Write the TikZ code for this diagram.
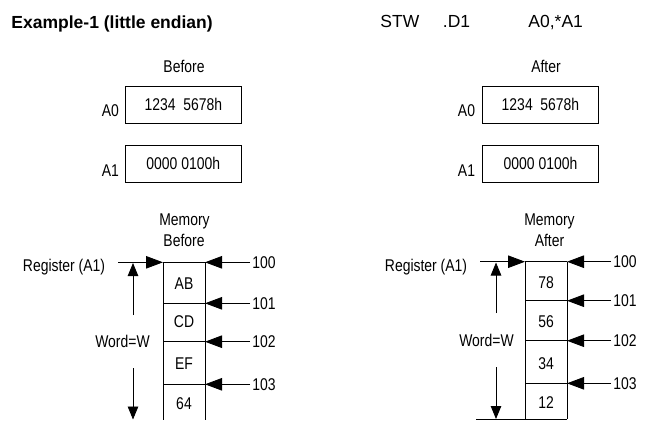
\documentclass[tikz,border=0pt]{standalone}
\usepackage{fontspec}
\setmainfont{Liberation Sans}
\newfontfamily\bodyfont[FakeStretch=0.82]{Liberation Sans}
\usetikzlibrary{arrows.meta}
\begin{document}
\begin{tikzpicture}[x=1bp,y=-1bp,line width=0.9bp,
  txt/.style={inner sep=0pt,font=\bodyfont\fontsize{17bp}{20bp}\selectfont},
  head/.style={inner sep=0pt,font=\fontsize{17.5bp}{20bp}\selectfont},
  reg/.style={draw,inner sep=0pt,minimum width=116.7bp,minimum height=37.5bp,font=\bodyfont\fontsize{17bp}{20bp}\selectfont},
  harr/.style={-{Triangle[length=17bp,width=12.5bp]}},
  varr/.style={-{Triangle[length=13bp,width=10.5bp]}}]
\useasboundingbox (0,0) rectangle (652,420);

% header
\node[head,anchor=base west,font=\bfseries\fontsize{17.5bp}{20bp}\selectfont] (title) at (11,28) {Example-1 (little endian)};
\node[head,anchor=base west] (stw) at (380,27.3) {STW};
\node[head,anchor=base west] (d1) at (442.5,27.3) {.D1};
\node[head,anchor=base west] (ops) at (528,27.3) {A0,*A1};

% ---------------- left: before ----------------
\node[txt,anchor=base] (bef) at (184,72.5) {Before};
\node[reg] (lA0) at (183.3,104.8) {1234\ \ 5678h};
\node[reg] (lA1) at (183.3,163.9) {0000 0100h};
\node[txt,anchor=base west] (lA0n) at (101.5,116.5) {A0};
\node[txt,anchor=base west] (lA1n) at (101.5,176.5) {A1};

\node[txt,anchor=base] (lmem) at (184.5,225) {Memory};
\node[txt,anchor=base] (lmemb) at (184,246) {Before};

% column
\coordinate (lc0) at (163,262.3);
\coordinate (ld0) at (205,262.3);
\coordinate (ld1) at (205,303.3);
\coordinate (ld2) at (205,341.7);
\coordinate (ld3) at (205,384.3);
\draw (163,262.3) -- (163,420);
\draw (205,262.3) -- (205,420);
\draw (163,262.3) -- (205,262.3);
\draw (163,303.3) -- (205,303.3);
\draw (163,341.7) -- (205,341.7);
\draw (163,384.3) -- (205,384.3);
\node[txt] (lv0) at (184,283.3) {AB};
\node[txt] (lv1) at (184,321.7) {CD};
\node[txt] (lv2) at (184,363.3) {EF};
\node[txt] (lv3) at (184,403.3) {64};

\node[txt,anchor=base west] (lreg) at (22.5,271.5) {Register (A1)};
\coordinate (lregs) at (118,262.3);
\draw[harr] (lregs) -- (lc0);

\node[txt,anchor=west,inner xsep=2pt] (l100) at (250,262.3) {100};
\node[txt,anchor=west,inner xsep=2pt] (l101) at (250,303.3) {101};
\node[txt,anchor=west,inner xsep=2pt] (l102) at (250,341.7) {102};
\node[txt,anchor=west,inner xsep=2pt] (l103) at (250,384.3) {103};
\draw[harr] (l100.west) -- (ld0);
\draw[harr] (l101.west) -- (ld1);
\draw[harr] (l102.west) -- (ld2);
\draw[harr] (l103.west) -- (ld3);

\node[txt] (lw) at (122.5,341.5) {Word=W};
\coordinate (lup0) at (133,315);
\coordinate (lup1) at (133,263);
\coordinate (ldn0) at (133,368);
\coordinate (ldn1) at (133,419.5);
\draw[varr] (lup0) -- (lup1);
\draw[varr] (ldn0) -- (ldn1);

% ---------------- right: after ----------------
\node[txt,anchor=base] (aft) at (546,72.5) {After};
\node[reg] (rA0) at (540.5,104.8) {1234\ \ 5678h};
\node[reg] (rA1) at (540.5,163.9) {0000 0100h};
\node[txt,anchor=base west] (rA0n) at (457.5,116.5) {A0};
\node[txt,anchor=base west] (rA1n) at (457.5,176.5) {A1};

\node[txt,anchor=base] (rmem) at (549.5,225) {Memory};
\node[txt,anchor=base] (rmema) at (549.5,246) {After};

\coordinate (rc0) at (525,261.7);
\coordinate (rd0) at (567,261.7);
\coordinate (rd1) at (567,300.7);
\coordinate (rd2) at (567,340.7);
\coordinate (rd3) at (567,383.3);
\draw (525,261.7) -- (525,419);
\draw (567,261.7) -- (567,419);
\draw (525,261.7) -- (567,261.7);
\draw (525,300.7) -- (567,300.7);
\draw (525,340.7) -- (567,340.7);
\draw (525,383.3) -- (567,383.3);
\draw (476,419) -- (567,419);
\node[txt] (rv0) at (546,282.7) {78};
\node[txt] (rv1) at (546,321.7) {56};
\node[txt] (rv2) at (546,363.5) {34};
\node[txt] (rv3) at (546,402.7) {12};

\node[txt,anchor=base west] (rreg) at (384.5,271.5) {Register (A1)};
\coordinate (rregs) at (480,261.7);
\draw[harr] (rregs) -- (rc0);

\node[txt,anchor=west,inner xsep=2pt] (r100) at (611,261.7) {100};
\node[txt,anchor=west,inner xsep=2pt] (r101) at (611,300.7) {101};
\node[txt,anchor=west,inner xsep=2pt] (r102) at (611,340.7) {102};
\node[txt,anchor=west,inner xsep=2pt] (r103) at (611,383.3) {103};
\draw[harr] (r100.west) -- (rd0);
\draw[harr] (r101.west) -- (rd1);
\draw[harr] (r102.west) -- (rd2);
\draw[harr] (r103.west) -- (rd3);

\node[txt] (rw) at (486.5,340.8) {Word=W};
\coordinate (rup0) at (496,313);
\coordinate (rup1) at (496,262.5);
\coordinate (rdn0) at (496,367);
\coordinate (rdn1) at (496,419);
\draw[varr] (rup0) -- (rup1);
\draw[varr] (rdn0) -- (rdn1);
\end{tikzpicture}
\end{document}
